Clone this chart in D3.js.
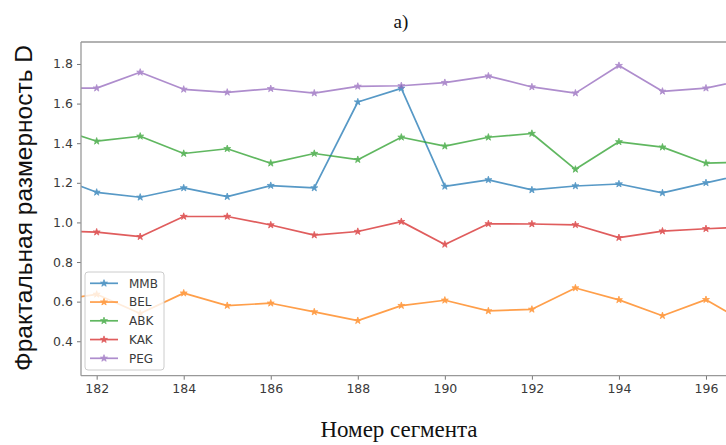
<!DOCTYPE html>
<html>
<head>
<meta charset="utf-8">
<script src="https://cdn.jsdelivr.net/npm/d3@7"></script>
<style>
  html, body { margin: 0; padding: 0; background: #fff; }
  svg { display: block; }
</style>
</head>
<body>
<svg id="chart" width="726" height="445"></svg>
<script>
// Segment numbers along the x axis
const segments = [181, 182, 183, 184, 185, 186, 187, 188, 189, 190, 191, 192, 193, 194, 195, 196, 197];

// Fractal dimension D per segment for each series
const mmb = [1.236, 1.152, 1.127, 1.174, 1.130, 1.186, 1.174, 1.608, 1.677, 1.182, 1.215, 1.164, 1.184, 1.194, 1.149, 1.200, 1.249];
const bel = [0.604, 0.637, 0.540, 0.643, 0.580, 0.592, 0.548, 0.504, 0.580, 0.607, 0.553, 0.561, 0.669, 0.609, 0.529, 0.610, 0.482];
const abk = [1.480, 1.410, 1.435, 1.348, 1.372, 1.299, 1.348, 1.317, 1.430, 1.385, 1.430, 1.449, 1.268, 1.407, 1.380, 1.299, 1.305];
const kak = [0.959, 0.951, 0.928, 1.030, 1.030, 0.987, 0.936, 0.954, 1.004, 0.889, 0.993, 0.992, 0.988, 0.923, 0.956, 0.968, 0.978];
const peg = [1.678, 1.678, 1.758, 1.672, 1.657, 1.675, 1.653, 1.687, 1.690, 1.706, 1.739, 1.684, 1.653, 1.792, 1.662, 1.678, 1.724];

const seriesNames = ["MMB", "BEL", "ABK", "KAK", "PEG"];
const seriesValues = [mmb, bel, abk, kak, peg];
const seriesColors = ["#1f77b4", "#ff7f0e", "#2ca02c", "#d62728", "#9467bd"];

const xTicks = [182, 184, 186, 188, 190, 192, 194, 196];
const yTicks = [0.4, 0.6, 0.8, 1.0, 1.2, 1.4, 1.6, 1.8];

const titleText = "a)";
const xLabel = "Номер сегмента";
const yLabel = "Фрактальная размерность D";

const svg = d3.select("#chart");
const plot = { left: 81, top: 42, right: 726, bottom: 375.7 };

const x = d3.scaleLinear().domain([181.64, 196.46]).range([plot.left, plot.right]);
const y = d3.scaleLinear().domain([0.226, 1.911]).range([plot.bottom, plot.top]);

svg.append("defs").append("clipPath").attr("id", "plot-clip")
  .append("rect")
  .attr("x", plot.left).attr("y", plot.top)
  .attr("width", plot.right - plot.left).attr("height", plot.bottom - plot.top);

// Axes
const tickFont = "'DejaVu Sans', sans-serif";
const xAxis = svg.append("g")
  .attr("transform", `translate(0,${plot.bottom})`)
  .call(d3.axisBottom(x).tickValues(xTicks).tickFormat(d3.format("d")).tickSize(4).tickPadding(4));
const yAxis = svg.append("g")
  .attr("transform", `translate(${plot.left},0)`)
  .call(d3.axisLeft(y).tickValues(yTicks).tickFormat(d3.format(".1f")).tickSize(4).tickPadding(4));

[xAxis, yAxis].forEach(g => {
  g.select(".domain").remove();
  g.selectAll(".tick line").attr("stroke", "#777").attr("stroke-width", 1);
  g.selectAll(".tick text")
    .attr("fill", "#3a3a3a")
    .style("font-family", tickFont)
    .style("font-size", "12.5px");
});

// Series lines with small star markers
const lineGen = d3.line().x((d, i) => x(segments[i])).y(d => y(d));
const lines = svg.append("g").attr("clip-path", "url(#plot-clip)");
const star = d3.symbol().type(d3.symbolStar).size(15);

seriesValues.forEach((vals, k) => {
  const g = lines.append("g").attr("opacity", 0.75);
  g.append("path")
    .datum(vals)
    .attr("d", lineGen)
    .attr("fill", "none")
    .attr("stroke", seriesColors[k])
    .attr("stroke-width", 1.7)
    .attr("stroke-linejoin", "round");
  g.selectAll("path.marker")
    .data(vals)
    .join("path")
    .attr("class", "marker")
    .attr("d", star)
    .attr("transform", (d, i) => `translate(${x(segments[i])},${y(d)})`)
    .attr("fill", seriesColors[k])
    .attr("stroke", seriesColors[k])
    .attr("stroke-width", 0.8);
});

// Plot frame (left, top, bottom)
const frame = svg.append("g").attr("stroke", "#999").attr("stroke-width", 1.3).attr("fill", "none");
frame.append("line").attr("x1", plot.left).attr("x2", plot.left).attr("y1", plot.top).attr("y2", plot.bottom);
frame.append("line").attr("x1", plot.left).attr("x2", plot.right).attr("y1", plot.top).attr("y2", plot.top);
frame.append("line").attr("x1", plot.left).attr("x2", plot.right).attr("y1", plot.bottom).attr("y2", plot.bottom);

// Legend
const legend = svg.append("g").attr("transform", "translate(85,272)");
legend.append("rect")
  .attr("width", 79).attr("height", 98).attr("rx", 3)
  .attr("fill", "#fff").attr("fill-opacity", 0.8)
  .attr("stroke", "#ccc").attr("stroke-width", 1);
seriesNames.forEach((name, k) => {
  const row = legend.append("g").attr("transform", `translate(0,${11.3 + k * 18.75})`);
  const sym = row.append("g").attr("opacity", 0.75);
  sym.append("line").attr("x1", 5).attr("x2", 33).attr("y1", 0).attr("y2", 0)
    .attr("stroke", seriesColors[k]).attr("stroke-width", 1.7);
  sym.append("path").attr("d", star).attr("transform", "translate(19,0)")
    .attr("fill", seriesColors[k]).attr("stroke", seriesColors[k]).attr("stroke-width", 0.8);
  row.append("text").attr("x", 44).attr("y", 0).attr("dy", "0.35em")
    .attr("fill", "#3a3a3a")
    .style("font-family", tickFont).style("font-size", "12px")
    .text(name);
});

// Titles
svg.append("text")
  .attr("x", 401).attr("y", 28)
  .attr("text-anchor", "middle")
  .style("font-family", "'Liberation Serif', 'Times New Roman', serif")
  .style("font-size", "19px")
  .attr("fill", "#111")
  .text(titleText);

svg.append("text")
  .attr("x", 399).attr("y", 437)
  .attr("text-anchor", "middle")
  .style("font-family", "'Liberation Serif', 'Times New Roman', serif")
  .style("font-size", "23px")
  .attr("fill", "#111")
  .text(xLabel);

svg.append("text")
  .attr("transform", "translate(32,208) rotate(-90)")
  .attr("text-anchor", "middle")
  .style("font-family", "'Liberation Sans', Arial, sans-serif")
  .style("font-size", "24.5px")
  .attr("fill", "#111")
  .text(yLabel);
</script>
</body>
</html>
